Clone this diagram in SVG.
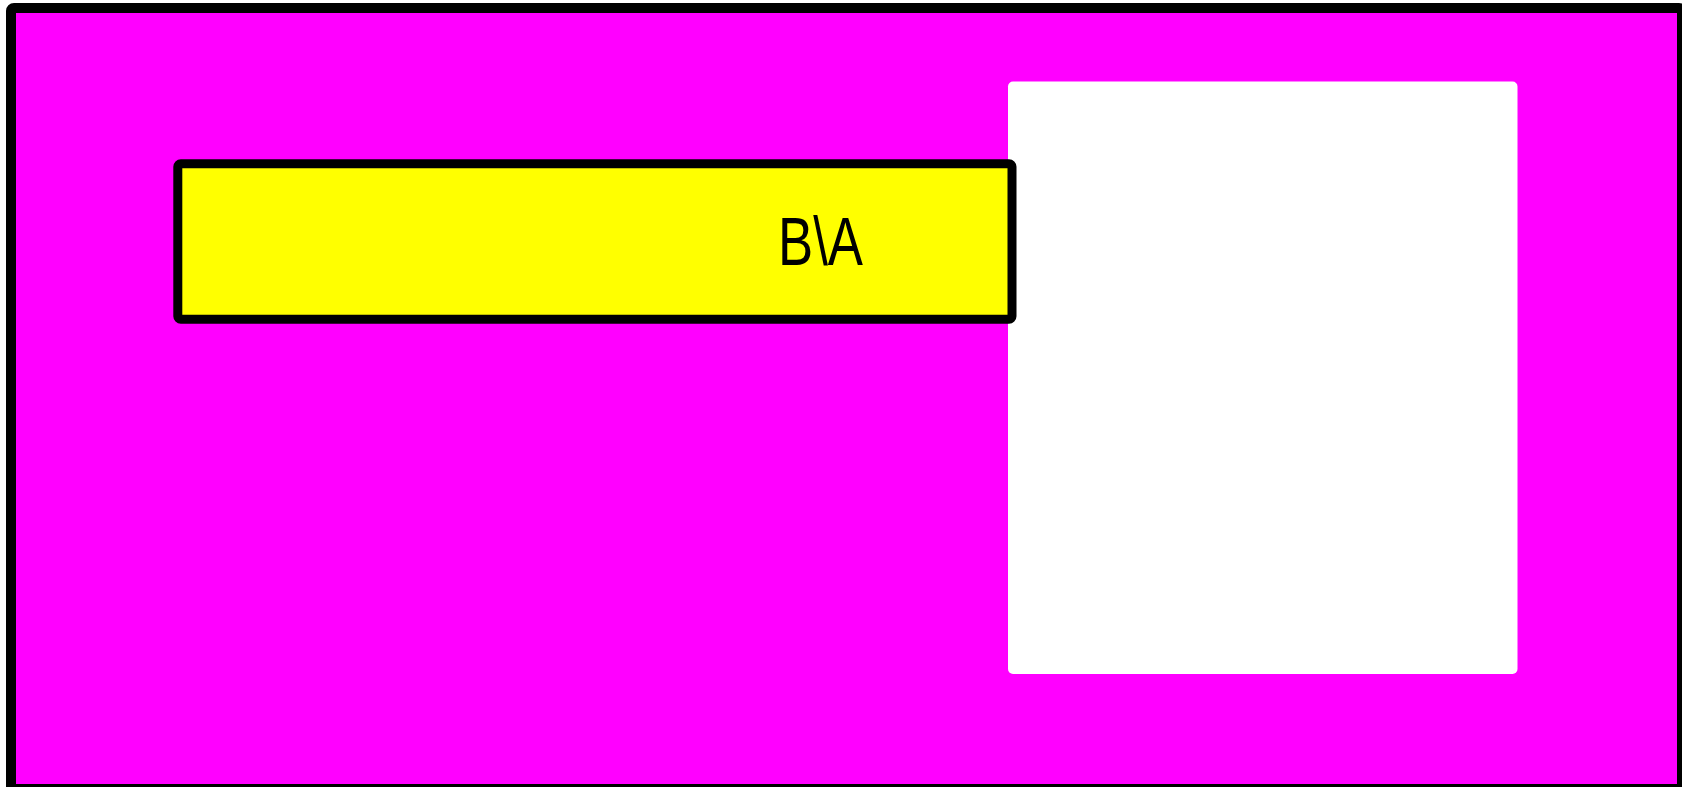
<svg xmlns="http://www.w3.org/2000/svg" width="1682" height="787" viewBox="0 0 1682 787">
<style>
.frame{fill:#ff00ff;stroke:#000;stroke-width:10}
.box{fill:#ffff00;stroke:#000;stroke-width:9}
.panel{fill:#fff}
.lbl{font-family:"Liberation Sans",Arial,sans-serif;font-size:68px;fill:#000}
</style>
<rect width="1682" height="787" fill="#fff"/>
<g id="frame"><rect class="frame" x="11" y="8" width="1671" height="781" rx="3"/></g>
<g id="panel"><rect class="panel" x="1008" y="81.5" width="509.5" height="592.5" rx="5"/></g>
<g id="box"><rect class="box" x="177.8" y="163.8" width="834.2" height="155.5" rx="3"/>
<text class="lbl" x="778" y="265" textLength="85" lengthAdjust="spacingAndGlyphs">B\A</text></g>
<g id="connectors"/>
</svg>
